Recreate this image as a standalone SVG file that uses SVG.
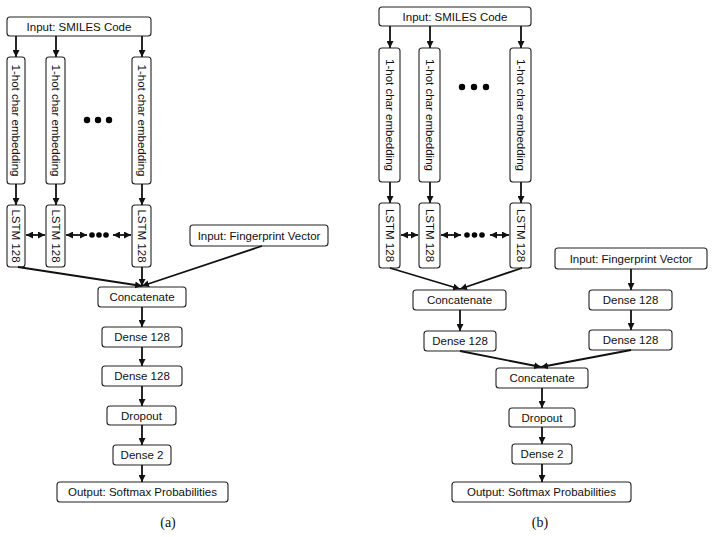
<svg xmlns="http://www.w3.org/2000/svg" width="713" height="537" viewBox="0 0 713 537">
<style>
.box{fill:#fff;stroke:#222;stroke-width:1.1}
.t{font-family:"Liberation Sans",Arial,sans-serif;font-size:11.5px;fill:#111;text-anchor:middle}
.cap{font-family:"Liberation Serif","Times New Roman",serif;font-size:14px;fill:#111;text-anchor:middle}
.ln{stroke:#111;stroke-width:1.8;fill:none}
.dot{fill:#000}
</style>
<defs>
<marker id="ah" markerUnits="userSpaceOnUse" markerWidth="7" markerHeight="7" refX="6" refY="3" orient="auto-start-reverse" viewBox="0 0 6 6">
<path d="M0,0 L6,3 L0,6 z" fill="#111"/>
</marker>
</defs>
<rect width="713" height="537" fill="#fff"/>

<!-- Panel (a) nodes -->
<g id="a-smiles"><rect class="box" x="7" y="17" width="144" height="19" rx="3"/><text class="t" x="79" y="30.5">Input: SMILES Code</text></g>
<g id="a-emb1"><rect class="box" x="7" y="57" width="18" height="127" rx="3"/><text class="t" transform="translate(16,120.5) rotate(90)" y="4">1-hot char embedding</text></g>
<g id="a-emb2"><rect class="box" x="46" y="57" width="19" height="127" rx="3"/><text class="t" transform="translate(55.5,120.5) rotate(90)" y="4">1-hot char embedding</text></g>
<g id="a-emb3"><rect class="box" x="132" y="57" width="19" height="127" rx="3"/><text class="t" transform="translate(141.5,120.5) rotate(90)" y="4">1-hot char embedding</text></g>
<g id="a-lstm1"><rect class="box" x="7" y="205" width="18" height="62" rx="3"/><text class="t" transform="translate(16,236) rotate(90)" y="4">LSTM 128</text></g>
<g id="a-lstm2"><rect class="box" x="46" y="205" width="19" height="62" rx="3"/><text class="t" transform="translate(55.5,236) rotate(90)" y="4">LSTM 128</text></g>
<g id="a-lstm3"><rect class="box" x="132" y="205" width="19" height="62" rx="3"/><text class="t" transform="translate(141.5,236) rotate(90)" y="4">LSTM 128</text></g>
<g id="a-fp"><rect class="box" x="190" y="225" width="138" height="21" rx="3"/><text class="t" x="259" y="239.5">Input: Fingerprint Vector</text></g>
<g id="a-concat"><rect class="box" x="98" y="287" width="88" height="20" rx="3"/><text class="t" x="142" y="301">Concatenate</text></g>
<g id="a-dense1"><rect class="box" x="102" y="327" width="80" height="20" rx="3"/><text class="t" x="142" y="341">Dense 128</text></g>
<g id="a-dense2"><rect class="box" x="102" y="366" width="80" height="20" rx="3"/><text class="t" x="142" y="380">Dense 128</text></g>
<g id="a-dropout"><rect class="box" x="107" y="406" width="69" height="19" rx="3"/><text class="t" x="141.5" y="419.5">Dropout</text></g>
<g id="a-dense3"><rect class="box" x="113" y="445" width="58" height="20" rx="3"/><text class="t" x="142" y="459">Dense 2</text></g>
<g id="a-output"><rect class="box" x="57" y="482" width="171" height="20" rx="3"/><text class="t" x="142.5" y="496">Output: Softmax Probabilities</text></g>
<g id="a-dots">
<circle class="dot" cx="87" cy="120" r="3.2"/><circle class="dot" cx="98" cy="120" r="3.2"/><circle class="dot" cx="109" cy="120" r="3.2"/>
<circle class="dot" cx="92" cy="235" r="2.8"/><circle class="dot" cx="99" cy="235" r="2.8"/><circle class="dot" cx="106" cy="235" r="2.8"/>
</g>
<text class="cap" x="168" y="527">(a)</text>

<!-- Panel (b) nodes -->
<g id="b-smiles"><rect class="box" x="379" y="7" width="152" height="19" rx="3"/><text class="t" x="455" y="20.5">Input: SMILES Code</text></g>
<g id="b-emb1"><rect class="box" x="379" y="48" width="21" height="134" rx="3"/><text class="t" transform="translate(389.5,115) rotate(90)" y="4">1-hot char embedding</text></g>
<g id="b-emb2"><rect class="box" x="419" y="48" width="21" height="134" rx="3"/><text class="t" transform="translate(429.5,115) rotate(90)" y="4">1-hot char embedding</text></g>
<g id="b-emb3"><rect class="box" x="510" y="48" width="21" height="134" rx="3"/><text class="t" transform="translate(520.5,115) rotate(90)" y="4">1-hot char embedding</text></g>
<g id="b-lstm1"><rect class="box" x="379" y="203" width="21" height="65" rx="3"/><text class="t" transform="translate(389.5,235.5) rotate(90)" y="4">LSTM 128</text></g>
<g id="b-lstm2"><rect class="box" x="419" y="203" width="21" height="65" rx="3"/><text class="t" transform="translate(429.5,235.5) rotate(90)" y="4">LSTM 128</text></g>
<g id="b-lstm3"><rect class="box" x="510" y="203" width="21" height="65" rx="3"/><text class="t" transform="translate(520.5,235.5) rotate(90)" y="4">LSTM 128</text></g>
<g id="b-fp"><rect class="box" x="555" y="248" width="152" height="21" rx="3"/><text class="t" x="631" y="262.5">Input: Fingerprint Vector</text></g>
<g id="b-concat1"><rect class="box" x="413" y="290" width="93" height="20" rx="3"/><text class="t" x="459.5" y="304">Concatenate</text></g>
<g id="b-fdense1"><rect class="box" x="589" y="290" width="83" height="20" rx="3"/><text class="t" x="630.5" y="304">Dense 128</text></g>
<g id="b-dense1"><rect class="box" x="424" y="331" width="72" height="20" rx="3"/><text class="t" x="460" y="345">Dense 128</text></g>
<g id="b-fdense2"><rect class="box" x="589" y="330" width="83" height="20" rx="3"/><text class="t" x="630.5" y="344">Dense 128</text></g>
<g id="b-concat2"><rect class="box" x="496" y="368" width="92" height="20" rx="3"/><text class="t" x="542" y="382">Concatenate</text></g>
<g id="b-dropout"><rect class="box" x="509" y="408" width="66" height="19" rx="3"/><text class="t" x="542" y="421.5">Dropout</text></g>
<g id="b-dense3"><rect class="box" x="512" y="444" width="60" height="20" rx="3"/><text class="t" x="542" y="458">Dense 2</text></g>
<g id="b-output"><rect class="box" x="452" y="482" width="179" height="20" rx="3"/><text class="t" x="541.5" y="496">Output: Softmax Probabilities</text></g>
<g id="b-dots">
<circle class="dot" cx="462" cy="87" r="3.2"/><circle class="dot" cx="474" cy="87" r="3.2"/><circle class="dot" cx="486" cy="87" r="3.2"/>
<circle class="dot" cx="467" cy="235" r="2.8"/><circle class="dot" cx="474.5" cy="235" r="2.8"/><circle class="dot" cx="482" cy="235" r="2.8"/>
</g>
<text class="cap" x="540" y="527">(b)</text>

<!-- Connectors -->
<g id="connectors" class="ln">
<!-- (a) -->
<line class="ln" x1="16" y1="36" x2="16" y2="57" marker-end="url(#ah)"/>
<line class="ln" x1="56" y1="36" x2="56" y2="57" marker-end="url(#ah)"/>
<line class="ln" x1="142" y1="36" x2="142" y2="57" marker-end="url(#ah)"/>
<line class="ln" x1="16" y1="184" x2="16" y2="205" marker-end="url(#ah)"/>
<line class="ln" x1="56" y1="184" x2="56" y2="205" marker-end="url(#ah)"/>
<line class="ln" x1="142" y1="184" x2="142" y2="205" marker-end="url(#ah)"/>
<line class="ln" x1="26" y1="235" x2="45" y2="235" marker-start="url(#ah)" marker-end="url(#ah)"/>
<line class="ln" x1="66" y1="235" x2="87" y2="235" marker-start="url(#ah)" marker-end="url(#ah)"/>
<line class="ln" x1="113" y1="235" x2="131" y2="235" marker-start="url(#ah)" marker-end="url(#ah)"/>
<line class="ln" x1="18" y1="267" x2="142" y2="286" marker-end="url(#ah)"/>
<line class="ln" x1="142" y1="267" x2="142" y2="286" marker-end="url(#ah)"/>
<line class="ln" x1="262" y1="246" x2="142" y2="286" marker-end="url(#ah)"/>
<line class="ln" x1="142" y1="307" x2="142" y2="327" marker-end="url(#ah)"/>
<line class="ln" x1="142" y1="347" x2="142" y2="366" marker-end="url(#ah)"/>
<line class="ln" x1="142" y1="386" x2="142" y2="406" marker-end="url(#ah)"/>
<line class="ln" x1="142" y1="425" x2="142" y2="445" marker-end="url(#ah)"/>
<line class="ln" x1="142" y1="465" x2="142" y2="482" marker-end="url(#ah)"/>
<!-- (b) -->
<line class="ln" x1="390" y1="26" x2="390" y2="48" marker-end="url(#ah)"/>
<line class="ln" x1="430" y1="26" x2="430" y2="48" marker-end="url(#ah)"/>
<line class="ln" x1="521" y1="26" x2="521" y2="48" marker-end="url(#ah)"/>
<line class="ln" x1="390" y1="182" x2="390" y2="203" marker-end="url(#ah)"/>
<line class="ln" x1="430" y1="182" x2="430" y2="203" marker-end="url(#ah)"/>
<line class="ln" x1="521" y1="182" x2="521" y2="203" marker-end="url(#ah)"/>
<line class="ln" x1="401" y1="235" x2="418" y2="235" marker-start="url(#ah)" marker-end="url(#ah)"/>
<line class="ln" x1="441" y1="235" x2="461" y2="235" marker-start="url(#ah)" marker-end="url(#ah)"/>
<line class="ln" x1="490" y1="235" x2="509" y2="235" marker-start="url(#ah)" marker-end="url(#ah)"/>
<line class="ln" x1="390" y1="268" x2="460" y2="289" marker-end="url(#ah)"/>
<line class="ln" x1="522" y1="268" x2="460" y2="289" marker-end="url(#ah)"/>
<line class="ln" x1="631" y1="269" x2="631" y2="290" marker-end="url(#ah)"/>
<line class="ln" x1="460" y1="310" x2="460" y2="331" marker-end="url(#ah)"/>
<line class="ln" x1="631" y1="310" x2="631" y2="330" marker-end="url(#ah)"/>
<line class="ln" x1="460" y1="351" x2="541" y2="367" marker-end="url(#ah)"/>
<line class="ln" x1="631" y1="350" x2="541" y2="367" marker-end="url(#ah)"/>
<line class="ln" x1="542" y1="388" x2="542" y2="408" marker-end="url(#ah)"/>
<line class="ln" x1="542" y1="427" x2="542" y2="444" marker-end="url(#ah)"/>
<line class="ln" x1="542" y1="464" x2="542" y2="482" marker-end="url(#ah)"/>
</g>
</svg>
